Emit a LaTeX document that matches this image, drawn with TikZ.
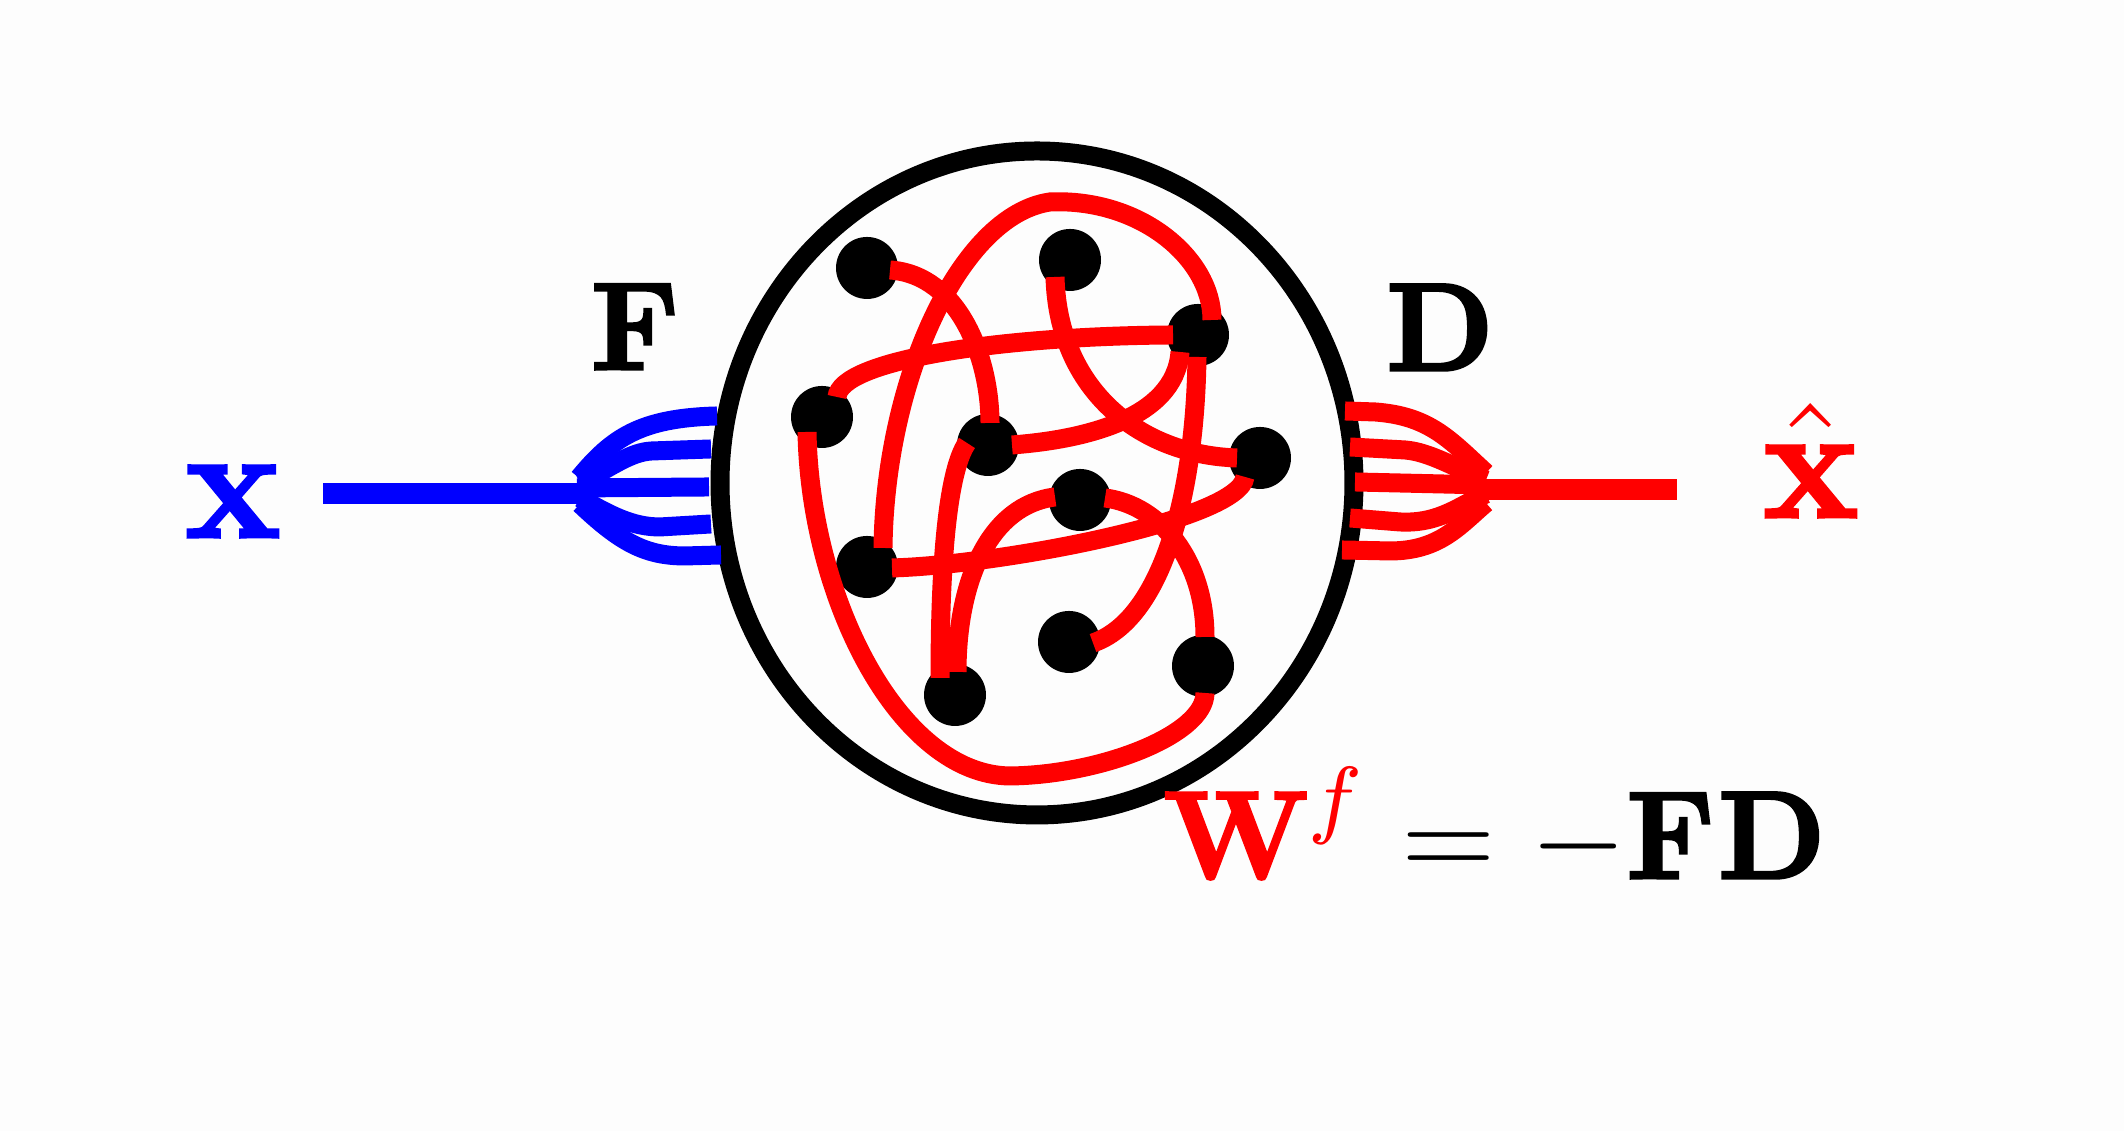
\RequirePackage{fix-cm}
\documentclass[tikz,border=0pt]{standalone}
\usetikzlibrary{calc}
\definecolor{bgc}{RGB}{253,253,253}
\newcommand\hb[1]{\special{pdf:literal direct 2 Tr 0.35 w}{\bfseries #1}\special{pdf:literal direct 0 Tr}}
\begin{document}
\begin{tikzpicture}[x=0.1pt,y=-0.1pt,
  blackdot/.style={circle,fill=black,inner sep=0pt,minimum size=6.2pt},
  wire/.style={draw=red,line width=1.9pt},
  bfinger/.style={draw=blue,line width=1.9pt},
  rfinger/.style={draw=red,line width=1.9pt},
  trunk/.style={line width=2.1pt},
  rim/.style={draw=black,line width=1.9pt},
  lbl/.style={inner sep=0pt,anchor=base,font=\fontsize{12.4}{15}\selectfont},
  biglbl/.style={inner sep=0pt,anchor=base,font=\fontsize{16}{19}\selectfont}]
\useasboundingbox (0,0) rectangle (2124,1131);
\fill[bgc] (0,0) rectangle (2124,1131);

% outer boundary
\coordinate (c) at (1037,483);
\draw[rim] (c) ellipse [x radius=31.7pt, y radius=33.2pt];

% input fan (blue)
\coordinate (bs) at (323,494);
\coordinate (bh) at (582,494);
\draw[blue,trunk] (bs) -- (bh);
\draw[bfinger] (579,478) .. controls (612,438) and (640,418) .. (717,416);
\draw[bfinger] (580,483) .. controls (612,467) and (630,452) .. (652,451) -- (711,449);
\draw[bfinger] (577,488) -- (709,487);
\draw[bfinger] (580,498) .. controls (610,515) and (632,527) .. (660,527) -- (711,524);
\draw[bfinger] (580,504) .. controls (620,542) and (645,556) .. (685,556) -- (721,555);

% output fan (red)
\coordinate (rh) at (1484,490);
\coordinate (re) at (1677,490);
\draw[red,trunk] (rh) -- (re);
\draw[rfinger] (1345,411) -- (1375,412) .. controls (1430,416) and (1450,440) .. (1486,473);
\draw[rfinger] (1350,447) -- (1405,450) .. controls (1430,452) and (1455,468) .. (1486,480);
\draw[rfinger] (1355,482) -- (1486,485);
\draw[rfinger] (1350,518) -- (1400,522) .. controls (1440,524) and (1460,505) .. (1486,494);
\draw[rfinger] (1342,550) -- (1390,551) .. controls (1440,551) and (1460,525) .. (1486,503);

% units
\node[blackdot] (d1) at (867,268) {};
\node[blackdot] (d2) at (1070,260) {};
\node[blackdot] (d3) at (1198,335) {};
\node[blackdot] (d4) at (822,417) {};
\node[blackdot] (d5) at (988,445) {};
\node[blackdot] (d6) at (1260,458) {};
\node[blackdot] (d7) at (1080,500) {};
\node[blackdot] (d8) at (867,567) {};
\node[blackdot] (d9) at (1069,642) {};
\node[blackdot] (d10) at (1203,666) {};
\node[blackdot] (d11) at (955,695) {};

% recurrent wiring
\draw[wire] ($(d1)+(23,2)$) .. controls (960,275) and (990,360) .. ($(d5)+(2,-22)$);
\draw[wire] ($(d8)+(16,-19)$) .. controls (885,380) and (960,215) .. (1050,202)
            .. controls (1140,198) and (1212,258) .. ($(d3)+(14,-15)$);
\draw[wire] ($(d2)+(-15,17)$) .. controls (1058,390) and (1140,455) .. ($(d6)+(-23,0)$);
\draw[wire] ($(d3)+(-25,0)$) .. controls (1000,336) and (840,360) .. ($(d4)+(15,-20)$);
\draw[wire] ($(d3)+(-18,17)$) .. controls (1175,420) and (1080,440) .. ($(d5)+(24,0)$);
\draw[wire] ($(d3)+(-1,22)$) .. controls (1195,500) and (1160,620) .. ($(d9)+(24,1)$);
\draw[wire] ($(d4)+(-15,15)$) .. controls (810,600) and (900,775) .. (1010,776)
            .. controls (1100,775) and (1205,735) .. ($(d10)+(2,27)$);
\draw[wire] ($(d5)+(-21,-2)$) .. controls (948,470) and (940,560) .. ($(d11)+(-15,-17)$);
\draw[wire] ($(d11)+(2,-23)$) .. controls (957,580) and (990,505) .. ($(d7)+(-25,-3)$);
\draw[wire] ($(d7)+(25,-2)$) .. controls (1160,505) and (1205,560) .. ($(d10)+(2,-29)$);
\draw[wire] ($(d8)+(25,1)$) .. controls (1000,565) and (1240,520) .. ($(d6)+(-15,19)$);

% labels
\node[biglbl,blue] (xin) at (233,537) {\hb{x}};
\node[biglbl,red] (xout) at (1811,517) {$\hat{\mbox{\hb{x}}}$};
\node[lbl] (Flbl) at (635,369) {\hb{F}};
\node[lbl] (Dlbl) at (1440,370) {\hb{D}};
\node[lbl,anchor=base west] (eq) at (1162,878) {$\textcolor{red}{\mbox{\hb{W}}^{f}} = -\mbox{\hb{F}\kern0.4pt\hb{D}}$};
\end{tikzpicture}
\end{document}
